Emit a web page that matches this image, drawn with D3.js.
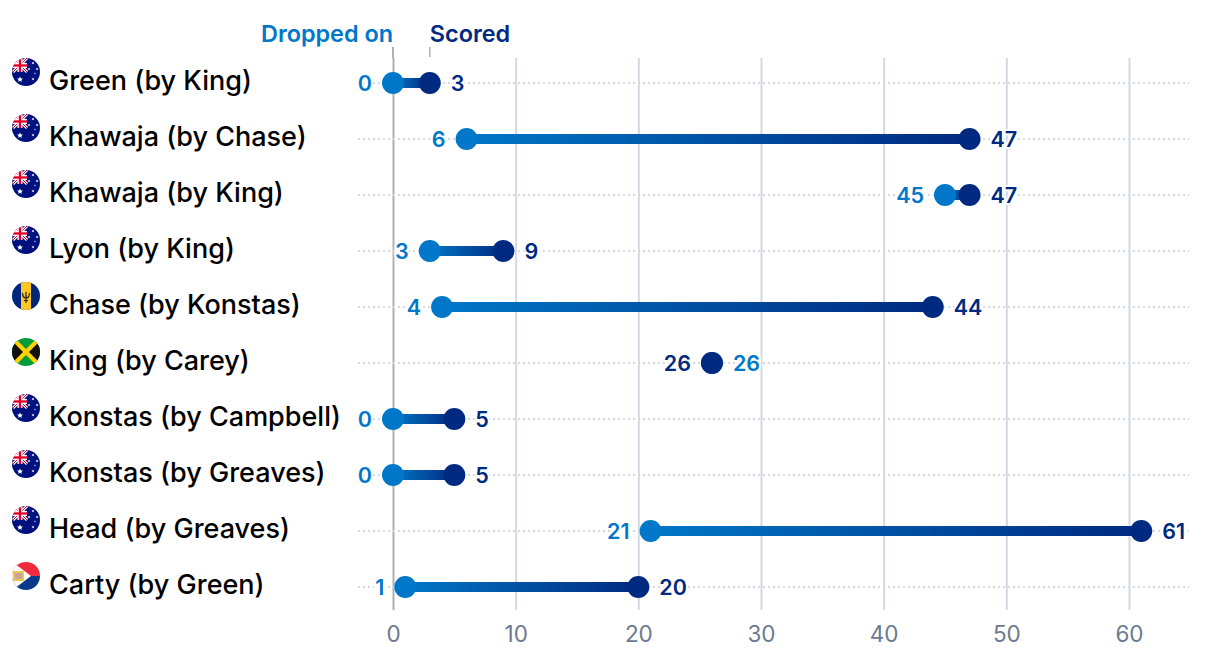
<!DOCTYPE html>
<html><head><meta charset="utf-8">
<script src="https://cdn.jsdelivr.net/npm/d3@7"></script>
<style>
html,body{margin:0;padding:0;background:#fff}
svg{display:block}
text{font-family:"Inter",sans-serif}
.v{paint-order:stroke;stroke:#fff;stroke-width:4px}
</style></head><body>
<svg id="c" width="1220" height="652"></svg>
<script>
const names=["Green (by King)","Khawaja (by Chase)","Khawaja (by King)","Lyon (by King)","Chase (by Konstas)","King (by Carey)","Konstas (by Campbell)","Konstas (by Greaves)","Head (by Greaves)","Carty (by Green)"];
const dropped=[0,6,45,3,4,26,0,0,21,1];
const scored=[3,47,47,9,44,26,5,5,61,20];
const flags=["au","au","au","au","bb","jm","au","au","au","sx"];
const ticks=[0,10,20,30,40,50,60];
const BLUE="#0077c8",NAVY="#002a80";

const svg=d3.select("#c");
const x=d3.scaleLinear().domain([0,60]).range([393,1129]);
const y=d3.scalePoint().domain(d3.range(names.length)).range([83,587]);
const defs=svg.append("defs");

const axis=svg.append("g").attr("transform","translate(0,610)")
  .call(d3.axisBottom(x).tickValues(ticks).tickSize(552).tickFormat(d3.format("d")));
axis.select(".domain").remove();
axis.selectAll(".tick line").attr("y1",0).attr("y2",-552)
  .attr("stroke",d=>d===0?"#b0b0b0":"#d3d8e2").attr("stroke-width",2);
axis.selectAll(".tick text").attr("y",32).attr("dy",0)
  .attr("font-size",22.5).attr("fill","#6b7a90").style("font-family",'"Inter",sans-serif');
svg.append("line").attr("x1",x(0)).attr("x2",x(0)).attr("y1",47).attr("y2",58).attr("stroke","#b0b0b0").attr("stroke-width",2);
svg.append("line").attr("x1",x(scored[0])).attr("x2",x(scored[0])).attr("y1",47).attr("y2",57).attr("stroke","#b0b0b0").attr("stroke-width",1.5);

svg.append("text").attr("x",x(0)).attr("y",42).attr("text-anchor","end").attr("font-size",23.4).attr("font-weight",600).attr("fill",BLUE).text("Dropped on");
svg.append("text").attr("x",x(scored[0])).attr("y",42).attr("font-size",23.4).attr("font-weight",600).attr("fill",NAVY).text("Scored");

function flag(g,k,i){
  const id="fc"+i;
  defs.append("clipPath").attr("id",id).append("circle").attr("r",14);
  const f=g.append("g").attr("clip-path",`url(#${id})`);
  const r=(x,y,w,h,c)=>f.append("rect").attr("x",x).attr("y",y).attr("width",w).attr("height",h).attr("fill",c);
  const p=(pts,c)=>f.append("polygon").attr("points",pts).attr("fill",c);
  const star=(cx,cy,s)=>{
    const pts=d3.range(10).map(j=>{const a=j*Math.PI/5-Math.PI/2,q=j%2?s*0.42:s;return [cx+q*Math.cos(a),cy+q*Math.sin(a)].join(",")}).join(" ");
    p(pts,"#fff");
  };
  if(k==="au"){
    r(-14,-14,28,28,"#00107c");
    f.append("path").attr("d","M-13,-14L1,0M1,-14L-13,0").attr("stroke","#fff").attr("stroke-width",3);
    f.append("path").attr("d","M-13,-14L1,0M1,-14L-13,0").attr("stroke","#e4002b").attr("stroke-width",1);
    r(-8.5,-14,5,14,"#fff");r(-14,-9,15,5,"#fff");
    r(-7.2,-14,2.4,14,"#e4002b");r(-14,-7.7,15,2.4,"#e4002b");
    star(-6,7.5,3.2);star(7,-9,1.6);star(3,-3,1.5);star(11,-3,1.5);star(7,7,1.6);star(9,1.5,1);
  } else if(k==="bb"){
    r(-14,-14,28,28,"#00267f");
    r(-5,-14,10,28,"#ffc726");
    f.append("path").attr("d","M0,-4V7M-3.5,-3C-3.5,0-2,2,0,2S3.5,0,3.5,-3M-2,4.5H2").attr("stroke","#222").attr("stroke-width",1.2).attr("fill","none");
  } else if(k==="jm"){
    r(-14,-14,28,28,"#009b3a");
    p("-14,-14 0,0 -14,14","#111");p("14,-14 0,0 14,14","#111");
    f.append("path").attr("d","M-14,-14L14,14M14,-14L-14,14").attr("stroke","#fed100").attr("stroke-width",4.2);
  } else {
    r(-14,-14,28,14,"#ee2a3f");
    r(-14,0,28,14,"#0a3a8c");
    p("-16,-16 5,0 -16,16","#fff");
    r(-13,-5,11,10,"#e9c84f");
    r(-11,-3,7,6,"#c9a0a0");
  }
}

const rows=svg.append("g").selectAll("g").data(names.map((n,i)=>i)).join("g")
  .attr("transform",i=>`translate(0,${y(i)})`);

rows.append("line").attr("x1",358).attr("x2",1189).attr("stroke","#d3d8e2").attr("stroke-width",2).attr("stroke-dasharray","2 3");

rows.append("text").attr("x",49).attr("y",7).attr("font-size",27).attr("font-weight",500).attr("fill","#000").text(i=>names[i]);
rows.append("g").attr("transform","translate(26,-11)").each(function(i){flag(d3.select(this),flags[i],i)});

rows.each(function(i){
  if(dropped[i]===scored[i])return;
  const lg=defs.append("linearGradient").attr("id","g"+i).attr("gradientUnits","userSpaceOnUse")
    .attr("x1",x(dropped[i])).attr("x2",x(scored[i])).attr("y1",0).attr("y2",0);
  lg.append("stop").attr("offset",0).attr("stop-color",BLUE);
  lg.append("stop").attr("offset",1).attr("stop-color",NAVY);
});
rows.filter(i=>dropped[i]!==scored[i]).append("rect")
  .attr("x",i=>x(dropped[i])).attr("width",i=>x(scored[i])-x(dropped[i]))
  .attr("y",-5).attr("height",10).attr("fill",i=>`url(#g${i})`);
rows.append("circle").attr("cx",i=>x(dropped[i])).attr("r",11).attr("fill",BLUE);
rows.append("circle").attr("cx",i=>x(scored[i])).attr("r",11).attr("fill",NAVY);

rows.append("text").attr("class","v").attr("x",i=>x(dropped[i])-21).attr("y",8).attr("text-anchor","end")
  .attr("font-size",21.5).attr("font-weight",600)
  .attr("fill",i=>dropped[i]===scored[i]?NAVY:BLUE).text(i=>dropped[i]);
rows.append("text").attr("class","v").attr("x",i=>x(scored[i])+21).attr("y",8)
  .attr("font-size",21.5).attr("font-weight",600)
  .attr("fill",i=>dropped[i]===scored[i]?BLUE:NAVY).text(i=>scored[i]);
</script>
</body></html>
